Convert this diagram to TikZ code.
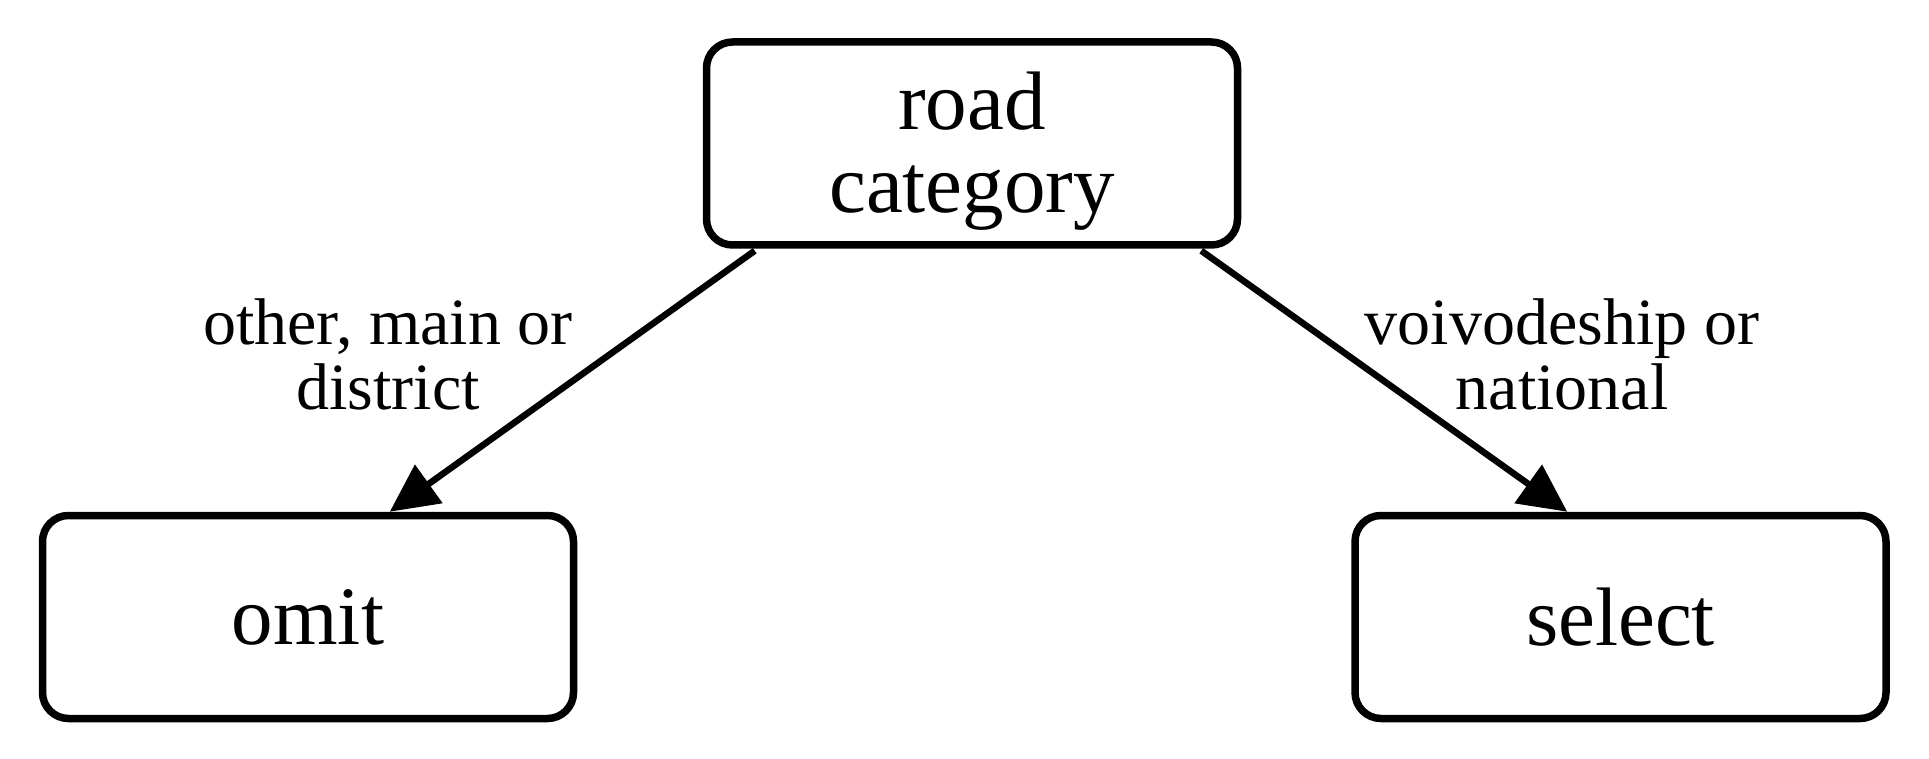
\documentclass[tikz,border=0pt]{standalone}
\usepackage{fontspec}
\setmainfont{Liberation Serif}
\usetikzlibrary{arrows.meta}
\begin{document}
\begin{tikzpicture}[x=1pt,y=-1pt,
  box/.style={draw, line width=7.5pt, rounded corners=26pt, align=center,
    minimum width=531pt, minimum height=203pt, inner sep=0pt,
    font=\fontsize{83}{83}\selectfont},
  lbl/.style={align=center, inner sep=0pt, font=\fontsize{66}{65}\selectfont},
  conn/.style={line width=6.5pt, -{Triangle[length=48pt,width=46pt]}}]
\useasboundingbox (0,0) rectangle (1929,759);
\node[box] (top) at (972,143.5) {\rule{0pt}{72pt}road\\category};
\node[box] (omit) at (308,617) {omit};
\node[box] (select) at (1620.5,617) {select};
\node[lbl] (l1) at (388,354) {other, main or\\district};
\node[lbl] (l2) at (1562,354) {voivodeship or\\national};
\draw[conn] ([xshift=52pt,yshift=-2pt]top.south west) -- ([xshift=351pt]omit.north west);
\draw[conn] ([xshift=-40pt,yshift=-2pt]top.south east) -- ([xshift=216pt]select.north west);
\end{tikzpicture}
\end{document}
